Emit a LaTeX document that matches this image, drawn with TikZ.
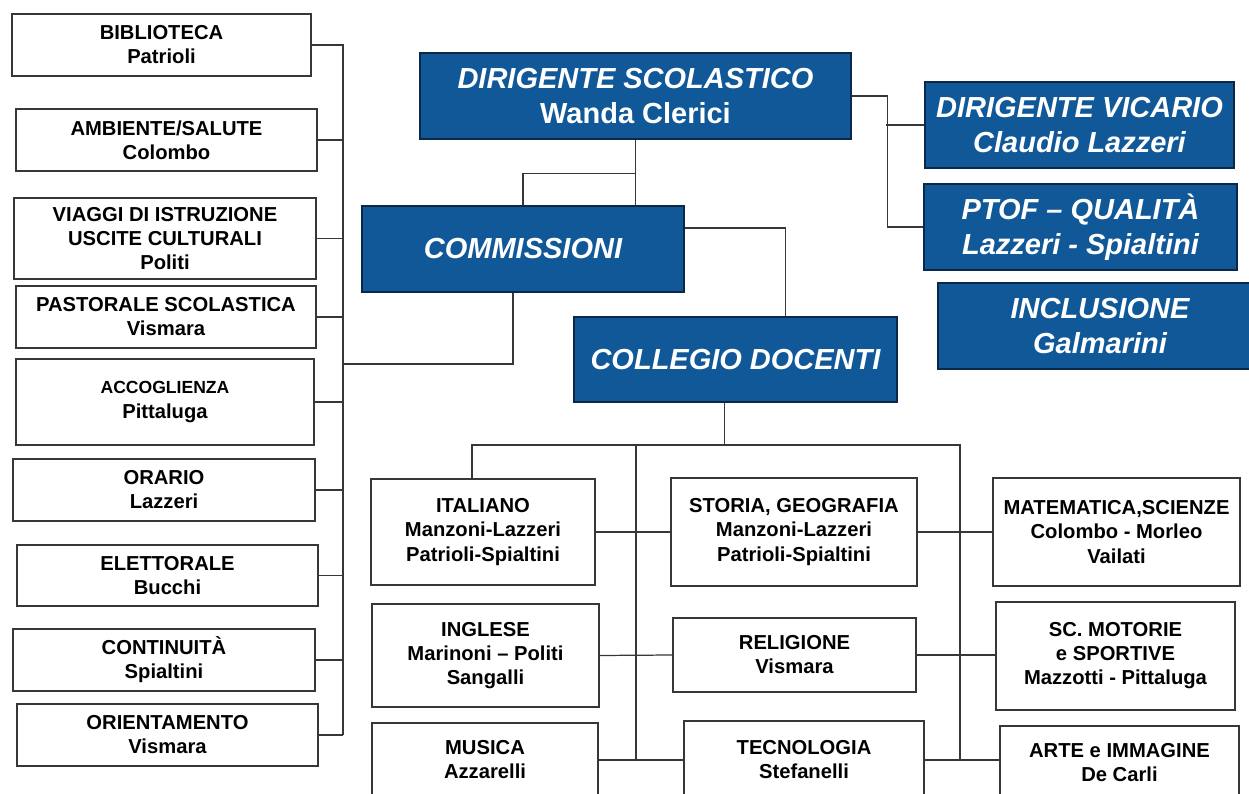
\documentclass[tikz,border=0pt]{standalone}
\usepackage{fontspec}
\setmainfont{Liberation Sans}
\usetikzlibrary{calc}
\definecolor{orgblue}{RGB}{16,88,152}
\definecolor{orgnavy}{RGB}{12,40,72}
\definecolor{orgline}{RGB}{55,55,55}
\tikzset{
  boxsize/.style 2 args={minimum width=#1*0.02cm, minimum height=#2*0.02cm},
  leaf/.style={draw=orgline, fill=white, line width=0.7pt, inner sep=0pt, align=center,
    font=\fontsize{11.5}{13.7}\selectfont\bfseries},
  head/.style={draw=orgnavy, fill=orgblue, line width=0.8pt, inner sep=0pt, align=center,
    text=white, font=\fontsize{16.5}{20}\selectfont\bfseries\itshape},
  link/.style={draw=orgline, line width=0.7pt}
}
\begin{document}
\begin{tikzpicture}[x=0.02cm, y=-0.02cm]
        \useasboundingbox (0,0) rectangle (1249,794);
        \clip (0,0) rectangle (1249,794);
        % commissioni
        \node[leaf, boxsize={299}{62}] (bib) at (161.5,45) {BIBLIOTECA\\Patrioli};
        \node[leaf, boxsize={301}{62}] (amb) at (166.5,140) {AMBIENTE/SALUTE\\Colombo};
        \node[leaf, boxsize={302}{81}] (viag) at (165,238.5) {VIAGGI DI ISTRUZIONE\\USCITE CULTURALI\\Politi};
        \node[leaf, boxsize={300}{62}] (past) at (166,317) {PASTORALE SCOLASTICA\\Vismara};
        \node[leaf, boxsize={298}{86}] (acc) at (165,402) {{\fontsize{10}{13.7}\selectfont ACCOGLIENZA}\\Pittaluga};
        \node[leaf, boxsize={302}{62}] (ora) at (164,490) {ORARIO\\Lazzeri};
        \node[leaf, boxsize={301}{61}] (ele) at (167.5,575.5) {ELETTORALE\\Bucchi};
        \node[leaf, boxsize={302}{62}] (cont) at (164,660) {CONTINUITÀ\\Spialtini};
        \node[leaf, boxsize={301}{62}] (ori) at (167.5,735) {ORIENTAMENTO\\Vismara};
        \coordinate (busTop) at (343,44);
        \coordinate (busBot) at (343,735);
        \coordinate (busJ) at (343,364);
        \draw[link] (busTop) -- (busBot);
        \foreach \n in {bib,amb,viag,past,acc,ora,ele,cont,ori}
          \draw[link] (\n.east) -- (\n.east -| busTop);
        % vertici
        \node[head, boxsize={431}{86}] (ds) at (635.5,96) {DIRIGENTE SCOLASTICO\\{\upshape Wanda Clerici}};
        \node[head, boxsize={322}{86}] (comm) at (523,249) {COMMISSIONI};
        \node[head, boxsize={323}{85}] (coll) at (735.5,359.5) {COLLEGIO DOCENTI};
        \node[head, boxsize={309}{86}] (vic) at (1079.5,125) {DIRIGENTE VICARIO\\Claudio Lazzeri};
        \node[head, boxsize={313}{86}] (ptof) at (1080.5,227) {PTOF – QUALITÀ\\Lazzeri - Spialtini};
        \node[head, boxsize={324}{86}] (incl) at (1100,326) {INCLUSIONE\\Galmarini};
        \draw[link] (ds.south) -- (ds.south |- comm.north);
        \draw[link] (ds.south) ++(0,34) -| (comm.north);
        \draw[link] ($(comm.east)+(0,-21)$) -| ($(coll.north)+(50,0)$);
        \draw[link] ($(comm.south)+(-10,0)$) |- (busJ);
        \draw[link] (ds.east) -- ++(36,0) |- (ptof.west);
        \draw[link] (vic.west) -- ++(-38,0);
        % dipartimenti
        \node[leaf, boxsize={224}{106}] (ital) at (483,532) {ITALIANO\\Manzoni-Lazzeri\\Patrioli-Spialtini};
        \node[leaf, boxsize={246}{108}] (stor) at (794,532) {STORIA, GEOGRAFIA\\Manzoni-Lazzeri\\Patrioli-Spialtini};
        \node[leaf, boxsize={247}{108}] (mat) at (1116.5,532) {MATEMATICA,SCIENZE\\Colombo - Morleo\\Vailati};
        \node[leaf, boxsize={227}{103}] (ing) at (485.5,655.5) {INGLESE\\Marinoni – Politi\\Sangalli};
        \node[leaf, boxsize={243}{74}] (rel) at (794.5,655) {RELIGIONE\\Vismara};
        \node[leaf, boxsize={239}{108}] (mot) at (1115.5,656) {SC. MOTORIE\\e SPORTIVE\\Mazzotti - Pittaluga};
        \node[leaf, boxsize={226}{74}] (mus) at (485,760) {MUSICA\\Azzarelli};
        \node[leaf, boxsize={240}{78}] (tec) at (804,760) {TECNOLOGIA\\Stefanelli};
        \node[leaf, boxsize={239}{74}] (arte) at (1119.5,763) {ARTE e IMMAGINE\\De Carli};
        \coordinate (hub) at ($(coll.south)+(-11,43)$);
        \coordinate (spineL) at (636,445);
        \coordinate (spineR) at (960,445);
        \draw[link] ($(coll.south)+(-11,0)$) -- (hub);
        \draw[link] ($(ital.north)+(-11,0)$) |- (spineR) -- (spineR |- mus.east);
        \draw[link] (spineL) -- (spineL |- mus.east);
        \draw[link] (ital.east) -- (stor.west);
        \draw[link] (stor.east) -- (mat.west);
        \draw[link] (ing.east) -- (rel.west);
        \draw[link] (rel.east) -- (rel.east -| mot.west);
        \draw[link] (mus.east) -- (mus.east -| tec.west);
        \draw[link] (tec.east) -- (tec.east -| arte.west);
      \end{tikzpicture}
\end{document}
